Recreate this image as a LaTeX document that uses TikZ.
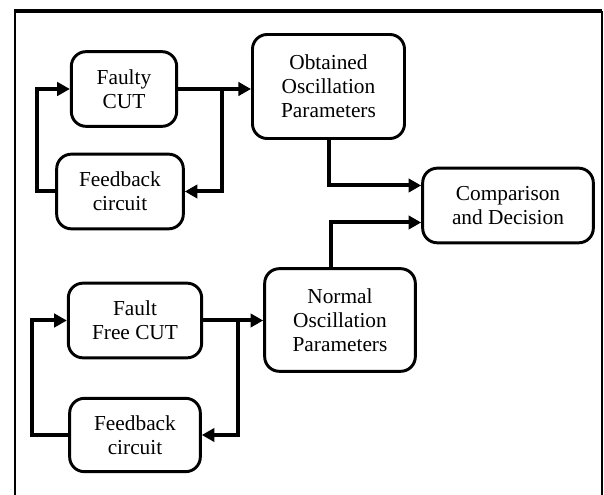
\documentclass[tikz,border=0pt]{standalone}
\usepackage{fontspec}
\setmainfont{Liberation Serif}
\usetikzlibrary{arrows.meta}
\usetikzlibrary{calc}

\tikzset{
  blk/.style={draw, line width=2.2pt, rounded corners=11pt, align=center,
    inner sep=0pt, font=\fontsize{16}{18}\selectfont},
  conn/.style={line width=3pt, -{Triangle[length=9.5pt,width=10pt]}}
}

\begin{document}
\begin{tikzpicture}[x=0.75pt,y=0.75pt,yscale=-1,xscale=1]
\useasboundingbox (0,0) rectangle (604,495);

%Frame
\draw [line width=2pt] (15,495) -- (15,11) ;
\draw [line width=2.4pt] (14,11) -- (602,11) ;
\draw [line width=0.9pt] (602,11) -- (602,495) ;

%Blocks: faulty path
\node [blk, minimum width=79pt, minimum height=56pt] (fcut) at (124,89) {Faulty\\CUT};
\node [blk, minimum width=95pt, minimum height=56pt] (fback) at (120,191.5) {Feedback\\circuit};
\node [blk, minimum width=114pt, minimum height=78pt] (obtpar) at (328.5,86.5) {Obtained\\Oscillation\\Parameters};

%Blocks: fault free path
\node [blk, minimum width=100pt, minimum height=56pt] (ffcut) at (135,320.5) {Fault\\Free CUT};
\node [blk, minimum width=98pt, minimum height=55pt] (ffback) at (135,435) {Feedback\\circuit};
\node [blk, minimum width=113pt, minimum height=77pt] (nrmpar) at (340,320) {Normal\\Oscillation\\Parameters};

%Decision
\node [blk, minimum width=128pt, minimum height=56pt] (cmpdec) at (508,205.5) {Comparison\\and Decision};

%Connectors
\coordinate (br1) at ($(fcut.east)+(44,0)$);
\coordinate (br2) at ($(ffcut.east)+(35,0)$);

\draw [conn] (fcut.east) -- (fcut.east -| obtpar.west) ;
\draw [conn] (br1) |- (fback.east) ;
\draw [conn] (fback.west) -- ++(-18,0) |- (fcut.west) ;

\draw [conn] (ffcut.east) -- (ffcut.east -| nrmpar.west) ;
\draw [conn] (br2) |- (ffback.east) ;
\draw [conn] (ffback.west) -- ++(-36,0) |- (ffcut.west) ;

\draw [conn] (obtpar.south) |- ($(cmpdec.west)+(0,-20)$) ;
\draw [conn] ($(nrmpar.north)+(-9,0)$) |- ($(cmpdec.west)+(0,17)$) ;

\end{tikzpicture}
\end{document}
